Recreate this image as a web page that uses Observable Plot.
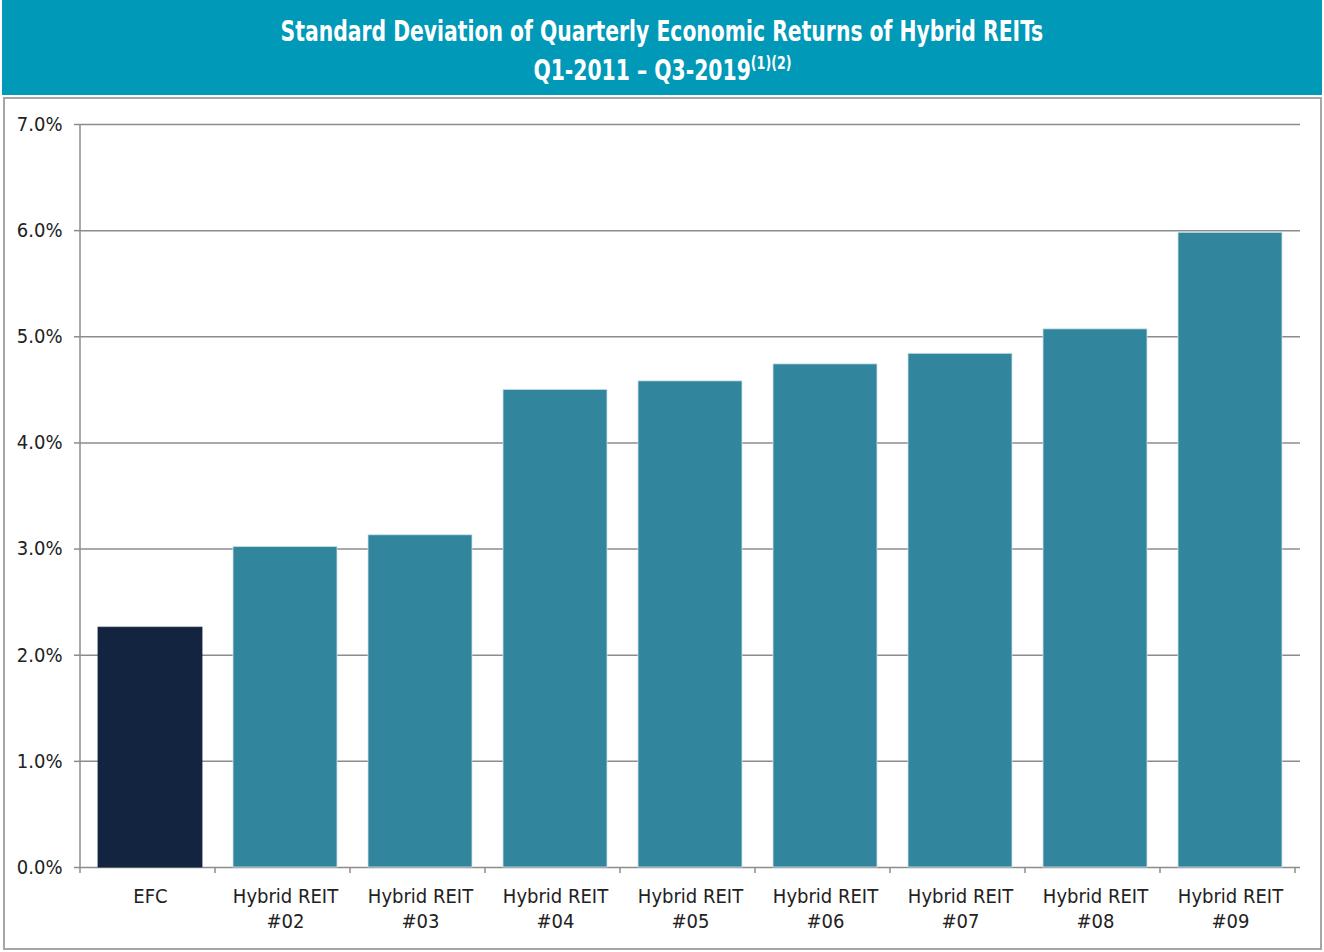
<!DOCTYPE html>
<html>
<head>
<meta charset="utf-8">
<script src="https://cdn.jsdelivr.net/npm/d3@7"></script>
<script src="https://cdn.jsdelivr.net/npm/@observablehq/plot@0.6"></script>
<style>
  html, body { margin: 0; padding: 0; background: #fff; }
  body { width: 1324px; height: 952px; position: relative; overflow: hidden;
         font-family: "Liberation Sans Narrow", "DejaVu Sans Condensed", "Roboto Condensed", sans-serif; }
  #header { position: absolute; left: 2px; top: 0; width: 1320px; height: 95px; background: #0099b8;
            color: #fff; text-align: center; font-weight: bold; font-size: 29px; line-height: 34px; }
  #header .l { position: absolute; left: 0; right: 0; }
  #header .l span { display: inline-block; transform: scaleX(0.78); transform-origin: 50% 50%; white-space: nowrap; }
  #header .l1 { top: 14px; }
  #header .l2 { top: 53px; }
  #header sup { font-size: 18px; vertical-align: 0; position: relative; top: -11px; }
  #frame { position: absolute; left: 3px; top: 97px; width: 1319px; height: 853px; box-sizing: border-box;
           border: 2px solid #a6a6a6; pointer-events: none; }
  #chart { position: absolute; left: 0; top: 97px; }
</style>
</head>
<body>
<div id="header">
  <div class="l l1"><span>Standard Deviation of Quarterly Economic Returns of Hybrid REITs</span></div>
  <div class="l l2"><span>Q1-2011 – Q3-2019<sup>(1)(2)</sup></span></div>
</div>
<div id="chart"></div>
<div id="frame"></div>
<script>
const categories = ["EFC", "Hybrid REIT\n#02", "Hybrid REIT\n#03", "Hybrid REIT\n#04", "Hybrid REIT\n#05",
                    "Hybrid REIT\n#06", "Hybrid REIT\n#07", "Hybrid REIT\n#08", "Hybrid REIT\n#09"];
const values = [2.26, 3.02, 3.13, 4.50, 4.58, 4.74, 4.84, 5.07, 5.98];
const yTicks = [0, 1, 2, 3, 4, 5, 6, 7];
const highlight = ["EFC"];

const data = categories.map((c, i) => ({category: c, value: values[i] / 100}));

const gray = "#8c8c8c";

// y-axis line plus category-boundary ticks on the x axis
const axisLines = (index, scales, channels, dims) => {
  const x = scales.x, y = scales.y;
  const [r0] = x.range();
  const step = x.step();
  const y0 = y(0), yTop = y(yTicks[yTicks.length - 1] / 100);
  const g = d3.create("svg:g").attr("stroke", gray).attr("stroke-width", 1.5).attr("fill", "none");
  g.append("line").attr("x1", r0).attr("x2", r0).attr("y1", yTop).attr("y2", y0 + 6);
  for (let i = 1; i <= categories.length; i++) {
    const sx = r0 + i * step;
    g.append("line").attr("x1", sx).attr("x2", sx).attr("y1", y0).attr("y2", y0 + 6);
  }
  return g.node();
};

const chart = Plot.plot({
  width: 1324,
  height: 855,
  marginLeft: 80,
  marginRight: 24,
  marginTop: 27,
  marginBottom: 85,
  style: {fontFamily: '"Liberation Sans Narrow", "DejaVu Sans Condensed", sans-serif', fontSize: "20px", color: "#222", background: "transparent"},
  x: {domain: categories, paddingInner: 0.226, paddingOuter: 0.113, label: null},
  y: {domain: [0, 0.07], label: null},
  marks: [
    Plot.gridY(yTicks.map(t => t / 100), {stroke: gray, strokeWidth: 1.5, strokeOpacity: 1}),
    Plot.barY(data, {x: "category", y: "value",
      fill: d => highlight.includes(d.category) ? "#12243f" : "#31869e",
      stroke: d => highlight.includes(d.category) ? "#12243f" : "#cfe4ea", strokeWidth: 0.8}),
    Plot.axisY({ticks: yTicks.map(t => t / 100), tickFormat: d => (d * 100).toFixed(1) + "%",
      tickSize: 6, tickPadding: 12, stroke: gray, strokeWidth: 1.5, fontSize: 20, fill: "#222"}),
    Plot.axisX({tickSize: 0, tickPadding: 18, fontSize: 20, lineHeight: 1.25, fill: "#222"}),
    axisLines
  ]
});
document.getElementById("chart").appendChild(chart);
</script>
</body>
</html>
